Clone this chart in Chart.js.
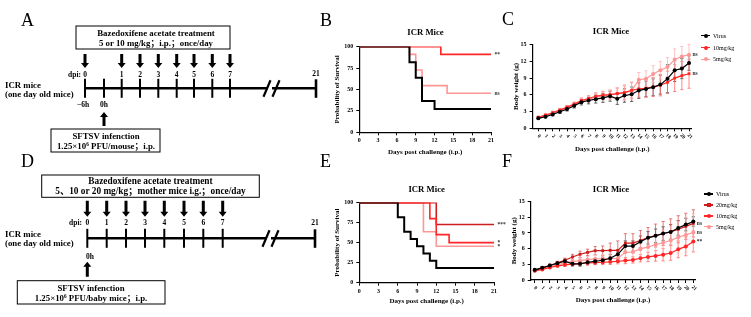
<!DOCTYPE html>
<html lang="en">
<head>
<meta charset="UTF-8">
<title>Bazedoxifene acetate in SFTSV infected ICR mice</title>
<script src="https://cdn.jsdelivr.net/npm/chart.js"></script>
<style>
  html, body { margin: 0; padding: 0; background: #fff; }
  body { position: relative; width: 751px; height: 317px; overflow: hidden;
         font-family: 'Liberation Serif', 'Noto Sans CJK SC', serif; color: #000; }
  canvas { position: absolute; }
  #schema { position: absolute; left: 0; top: 0; }
  #schemaText, #labels { position: absolute; left: 0; top: 0; width: 751px; height: 317px; will-change: transform; z-index: 2; }
  .st { position: absolute; font-weight: bold; line-height: 1; white-space: nowrap; color: #000; }
  .st sup { font-size: 0.6em; vertical-align: 0; position: relative; top: -0.45em; }
  .letter { position: absolute; font-size: 18px; line-height: 1; }
  .ptitle { position: absolute; font-size: 8.7px; font-weight: bold; line-height: 1;
            white-space: nowrap; transform: translate(-50%, -50%); }
  .leg { position: absolute; height: 8px; line-height: 8px; display: flex; align-items: center;
         font-size: 6px; white-space: nowrap; }
  .leg .mk { position: relative; width: 9px; height: 8px; margin-right: 3px; }
  .leg .mk i { position: absolute; left: 0; right: 0; top: 3.4px; height: 1.2px; }
  .leg .mk b { position: absolute; left: 2.5px; top: 2px; width: 4px; height: 4px; border-radius: 50%; }
</style>
</head>
<body>
<svg id="schema" width="330" height="317" xmlns="http://www.w3.org/2000/svg"></svg>

<canvas id="chartB" width="180" height="120" style="left:326px;top:40px"></canvas>
<canvas id="chartC" width="200" height="122" style="left:505px;top:38px"></canvas>
<canvas id="chartE" width="182" height="120" style="left:326px;top:196px"></canvas>
<canvas id="chartF" width="200" height="121" style="left:503px;top:195px"></canvas>

<div id="schemaText"></div>
<div id="labels">
  <div class="letter" style="left:21px;top:11px">A</div>
  <div class="letter" style="left:320px;top:11px">B</div>
  <div class="letter" style="left:502px;top:10px">C</div>
  <div class="letter" style="left:21px;top:152px">D</div>
  <div class="letter" style="left:320px;top:152px">E</div>
  <div class="letter" style="left:502px;top:152px">F</div>

  <div class="ptitle" style="left:425.5px;top:32.3px">ICR Mice</div>
  <div class="ptitle" style="left:611px;top:31px">ICR Mice</div>
  <div class="ptitle" style="left:426.7px;top:189.3px">ICR Mice</div>
  <div class="ptitle" style="left:611px;top:189.3px">ICR Mice</div>
</div>

<script>
  // ---------- data ----------
  // B: survival (%), step points
  const bVirusDays = [0, 8, 9, 10, 12, 21];
  const bVirusSurv = [100, 81.8, 63.6, 36.4, 27.3, 27.3];
  const b10Days = [0, 13, 21];
  const b10Surv = [100, 90.9, 90.9];
  const b5Days = [0, 8, 9, 10, 14, 21];
  const b5Surv = [100, 90.9, 72.7, 54.5, 45.5, 45.5];

  // E: survival (%), step points
  const eVirusDays = [0, 6, 7, 8, 9, 10, 11, 12, 21];
  const eVirusSurv = [100, 81.8, 63.6, 54.5, 45.5, 36.4, 27.3, 18.2, 18.2];
  const e20Days = [0, 12, 21];
  const e20Surv = [100, 72.7, 72.7];
  const e10Days = [0, 11, 12, 14, 21];
  const e10Surv = [100, 80, 60, 50, 50];
  const e5Days = [0, 10, 12, 21];
  const e5Surv = [100, 63.6, 45.5, 45.5];

  // C / F: body weight (g), mean and SD per day
  const weightDays = [0, 1, 2, 3, 4, 5, 6, 7, 8, 9, 10, 11, 12, 13, 14, 15, 16, 17, 18, 19, 20, 21];
  const dayLabels = ['0', '1', '2', '3', '4', '5', '6', '7', '8', '9', '10', '11', '12', '13', '14', '15', '16', '17', '18', '19', '20', '21'];

  const cVirus = [1.78, 2.07, 2.49, 2.96, 3.44, 4.03, 4.68, 4.98, 5.22, 5.45, 5.75, 5.28, 5.87, 6.10, 6.76, 7.06, 7.35, 7.83, 8.89, 10.4, 10.7, 11.7];
  const cVirusSD = [0.15, 0.2, 0.25, 0.3, 0.35, 0.4, 0.5, 0.6, 0.7, 0.8, 0.9, 1.0, 1.2, 1.3, 1.4, 1.4, 1.5, 1.7, 2.5, 2.0, 1.8, 1.3];
  const c10 = [1.96, 2.37, 2.79, 3.26, 3.79, 4.33, 4.98, 5.34, 5.75, 5.93, 6.05, 6.23, 6.40, 6.82, 7.06, 7.17, 7.41, 7.71, 8.24, 9.00, 9.43, 9.78];
  const c10SD = [0.15, 0.2, 0.25, 0.3, 0.3, 0.35, 0.45, 0.5, 0.6, 0.7, 0.8, 1.0, 1.2, 1.4, 1.5, 1.6, 1.7, 1.9, 2.0, 2.4, 2.5, 2.6];
  const c5 = [1.96, 2.30, 2.79, 3.26, 3.73, 4.33, 4.86, 5.22, 5.57, 5.81, 5.99, 6.23, 6.40, 6.70, 8.70, 8.90, 9.72, 10.4, 10.97, 12.33, 12.87, 13.2];
  const c5SD = [0.15, 0.2, 0.25, 0.3, 0.3, 0.35, 0.45, 0.55, 0.6, 0.7, 0.8, 1.0, 1.4, 1.6, 1.3, 1.4, 1.5, 1.6, 1.7, 1.9, 1.8, 1.8];

  const fVirus = [1.95, 2.33, 2.77, 3.21, 3.59, 3.09, 3.09, 3.40, 3.59, 3.78, 4.16, 4.92, 6.49, 6.49, 7.31, 8.07, 8.45, 8.89, 9.20, 9.96, 10.6, 11.2];
  const fVirusSD = [0.15, 0.2, 0.25, 0.3, 0.4, 0.4, 0.45, 0.5, 0.55, 0.6, 0.7, 0.8, 1.0, 1.0, 1.1, 1.2, 1.3, 1.3, 1.4, 1.4, 1.2, 0.9];
  const f20 = [1.89, 2.33, 2.77, 3.28, 3.78, 4.41, 4.92, 5.29, 5.61, 5.61, 5.67, 5.67, 7.06, 7.06, 7.56, 8.13, 8.50, 8.89, 9.20, 9.70, 10.27, 10.84];
  const f20SD = [0.15, 0.2, 0.25, 0.3, 0.4, 0.5, 0.6, 0.6, 0.8, 0.9, 1.4, 1.8, 1.8, 1.8, 1.9, 1.9, 2.2, 2.3, 2.5, 2.6, 2.5, 2.6];
  const f10 = [1.76, 2.02, 2.39, 2.71, 2.90, 3.02, 3.15, 3.28, 3.34, 3.40, 3.47, 3.59, 3.72, 3.84, 4.16, 4.41, 4.60, 4.85, 5.17, 5.86, 6.43, 7.37];
  const f10SD = [0.15, 0.15, 0.2, 0.25, 0.3, 0.3, 0.35, 0.4, 0.4, 0.45, 0.5, 0.5, 0.6, 0.6, 0.7, 0.9, 1.0, 1.2, 1.4, 1.6, 1.8, 2.0];
  const f5 = [1.83, 2.14, 2.52, 2.90, 3.28, 3.53, 3.72, 3.91, 4.03, 4.03, 4.10, 4.16, 5.29, 5.36, 5.99, 6.30, 6.74, 7.12, 7.56, 8.19, 8.63, 9.08];
  const f5SD = [0.15, 0.2, 0.25, 0.3, 0.35, 0.4, 0.5, 0.6, 0.7, 0.8, 0.9, 1.0, 1.3, 1.4, 1.6, 1.8, 2.0, 2.4, 2.7, 3.0, 3.3, 3.6];

  // schematic labels
  const dpiLabels = ['0', '1', '2', '3', '4', '5', '6', '7'];
  const aDoseX = [85, 121.7, 140, 158.3, 176.7, 194, 212.3, 230];
  const dDoseX = [87.3, 106.7, 126, 145, 164.3, 184, 203.3, 222.7];

  const BLACK = '#000000', DARKRED = '#cc1e1e', RED = '#ff2626', PINK = '#ff9696';
  const serif = "'Liberation Serif', 'Times New Roman', serif";

  // ---------- schematic (A, D) ----------
  let s = '', h = '';
  function rect(x, y, w, hh) {
    s += `<rect x="${x}" y="${y}" width="${w}" height="${hh}" fill="#fff" stroke="#000" stroke-width="1"/>`;
  }
  function line(x1, y1, x2, y2, w) {
    s += `<line x1="${x1}" y1="${y1}" x2="${x2}" y2="${y2}" stroke="#000" stroke-width="${w}"/>`;
  }
  function text(x, y, str, size, anchor) {
    const tx = anchor === 'start' ? '0' : anchor === 'end' ? '-100%' : '-50%';
    h += `<div class="st" style="left:${x}px;top:${y}px;font-size:${size}px;transform:translate(${tx},-50%)">${str}</div>`;
  }
  function downArrow(x, y1, y2) {
    s += `<path fill="#000" d="M${x - 1.5} ${y1}H${x + 1.5}V${y2 - 5}H${x + 4}L${x} ${y2}L${x - 4} ${y2 - 5}H${x - 1.5}Z"/>`;
  }
  function upArrow(x, y1, y2) {
    s += `<path fill="#000" d="M${x} ${y1}L${x + 4} ${y1 + 5}H${x + 1.5}V${y2}H${x - 1.5}V${y1 + 5}H${x - 4}Z"/>`;
  }
  function timeline(y, x0, x1, ticks, brk) {
    line(x0, y, x1, y, 2.6);
    ticks.forEach(x => line(x, y - 9.5, x, y + 9.5, 2));
    line(x1, y - 9, x1, y + 9.5, 2.6);
    s += `<rect x="${brk + 3.5}" y="${y - 3}" width="4.5" height="6" fill="#fff"/>`;
    line(brk - 0.5, y + 8.5, brk + 6.5, y - 8, 2.2);
    line(brk + 8.5, y + 8.5, brk + 15.5, y - 8, 2.2);
  }

  // panel A
  rect(76, 26, 154, 23);
  text(156, 33.3, 'Bazedoxifene acetate treatment', 8.8);
  text(156, 42.7, '5 or 10 mg/kg；i.p.；once/day', 8.8);
  aDoseX.forEach(x => downArrow(x, 54, 68));
  text(81, 75, 'dpi:', 7.5, 'end');
  aDoseX.forEach((x, i) => text(x, 75, dpiLabels[i], 7.5));
  timeline(88.3, 85, 316, [85, 104].concat(aDoseX.slice(1)), 264);
  text(316, 74, '21', 7.5);
  text(5, 84.7, 'ICR mice', 8.8, 'start');
  text(5, 94.3, '(one day old mice)', 8.8, 'start');
  text(83, 105, '−6h', 7.5);
  text(104, 105, '0h', 7.5);
  upArrow(104, 112, 126);
  rect(51, 129, 109, 23);
  text(106, 136, 'SFTSV infenction', 8.8);
  text(106, 145.7, '1.25×10<sup>6</sup> PFU/mouse；i.p.', 8.8);

  // panel D
  rect(41.7, 175, 217.6, 22.3);
  text(150.5, 181.7, 'Bazedoxifene acetate treatment', 9.3);
  text(150.5, 191.7, '5、10 or 20 mg/kg；mother mice i.g.；once/day', 9.3);
  dDoseX.forEach(x => downArrow(x, 200.7, 216.7));
  text(82, 223.3, 'dpi:', 7.5, 'end');
  dDoseX.forEach((x, i) => text(x, 223.3, dpiLabels[i], 7.5));
  timeline(238.3, 87.3, 315, dDoseX, 263);
  text(315, 223.3, '21', 7.5);
  text(5, 234, 'ICR mice', 8.8, 'start');
  text(5, 243.3, '(one day old mice)', 8.8, 'start');
  text(90, 256.7, '0h', 7.5);
  upArrow(87.3, 261.7, 276.7);
  rect(17.3, 280.7, 147.7, 23.3);
  text(91, 287.7, 'SFTSV infenction', 8.8);
  text(91, 297.7, '1.25×10<sup>6</sup> PFU/baby mice；i.p.', 8.8);

  document.getElementById('schema').innerHTML = s;
  document.getElementById('schemaText').innerHTML = h;

  // ---------- legends (C, F) ----------
  function legend(items, left, rows) {
    const host = document.getElementById('labels');
    items.forEach((it, i) => {
      const d = document.createElement('div');
      d.className = 'leg';
      d.style.left = left + 'px';
      d.style.top = (rows[i] - 4) + 'px';
      d.innerHTML = `<span class="mk"><i style="background:${it.color}"></i><b style="background:${it.color};border-radius:${it.square ? '0' : '50%'}"></b></span>${it.name}`;
      host.appendChild(d);
    });
  }
  legend([{ name: 'Virus', color: BLACK }, { name: '10mg/kg', color: RED }, { name: '5mg/kg', color: PINK }],
    701, [35.7, 47.5, 59.3]);
  legend([{ name: 'Virus', color: BLACK }, { name: '20mg/kg', color: DARKRED, square: true },
    { name: '10mg/kg', color: RED }, { name: '5mg/kg', color: PINK }],
    704, [194, 205, 216, 226.7]);

  // ---------- plugins ----------
  const errorBars = {
    id: 'errorBars',
    beforeDatasetsDraw(chart) {
      const ctx = chart.ctx, xs = chart.scales.x, ys = chart.scales.y;
      chart.data.datasets.forEach(ds => {
        if (!ds.sd) return;
        ctx.save();
        ctx.strokeStyle = ds.errColor;
        ctx.lineWidth = 0.8;
        ds.data.forEach((p, j) => {
          const px = xs.getPixelForValue(p.x);
          const top = ys.getPixelForValue(p.y + ds.sd[j]);
          const bot = ys.getPixelForValue(Math.max(0, p.y - ds.sd[j]));
          ctx.beginPath();
          ctx.moveTo(px, top); ctx.lineTo(px, bot);
          ctx.moveTo(px - 1.6, top); ctx.lineTo(px + 1.6, top);
          ctx.moveTo(px - 1.6, bot); ctx.lineTo(px + 1.6, bot);
          ctx.stroke();
        });
        ctx.restore();
      });
    }
  };

  const sigMarks = {
    id: 'sigMarks',
    afterDatasetsDraw(chart) {
      const ctx = chart.ctx, xs = chart.scales.x, ys = chart.scales.y;
      ctx.save();
      ctx.font = 'bold 5.5px ' + serif;
      ctx.fillStyle = '#333';
      ctx.textAlign = 'left';
      ctx.textBaseline = 'middle';
      chart.data.datasets.forEach(ds => {
        if (!ds.sig) return;
        const last = ds.data[ds.data.length - 1];
        ctx.fillText(ds.sig, xs.getPixelForValue(last.x) + 3.5, ys.getPixelForValue(last.y));
      });
      ctx.restore();
    }
  };

  const slantTicks = {
    id: 'slantTicks',
    afterDraw(chart, args, opts) {
      if (!opts.labels) return;
      const ctx = chart.ctx, xs = chart.scales.x;
      ctx.save();
      ctx.font = 'bold 5px ' + serif;
      ctx.fillStyle = '#000';
      ctx.textAlign = 'center';
      ctx.textBaseline = 'middle';
      xs.ticks.forEach(t => {
        const px = xs.getPixelForValue(t.value);
        ctx.save();
        ctx.translate(px + 0.8, xs.top + 8);
        ctx.rotate(Math.PI / 4);
        ctx.fillText(opts.labels[t.value], 0, 0);
        ctx.restore();
      });
      ctx.restore();
    }
  };

  function pts(xs, ys) { return xs.map((x, i) => ({ x: x, y: ys[i] })); }

  function makeOptions(o) {
    const tickFont = { family: serif, size: 6, weight: 'bold' };
    const titleFont = { family: serif, size: 7, weight: 'bold' };
    return {
      responsive: false,
      animation: false,
      devicePixelRatio: 1,
      layout: { padding: { left: 0, top: o.padTop, right: o.padRight, bottom: 0 } },
      plugins: {
        legend: { display: false },
        tooltip: { enabled: false },
        title: { display: false },
        slantTicks: { labels: o.slant ? dayLabels : null }
      },
      scales: {
        x: {
          type: 'linear', min: o.xMin, max: o.xMax,
          afterFit: sc => { sc.height = o.xHeight; },
          border: { display: true, color: '#000', width: 1.2 },
          grid: { drawOnChartArea: false, color: '#000', tickLength: 3, lineWidth: 1 },
          ticks: { display: !o.slant, stepSize: o.xStep, includeBounds: false, color: '#000',
                   padding: 2, maxRotation: 0, font: tickFont },
          title: { display: true, text: 'Days post challenge (i.p.)', color: '#000', font: titleFont,
                   padding: { top: 0, bottom: o.xTitlePad } }
        },
        y: {
          type: 'linear', min: 0, max: o.yMax,
          afterFit: sc => { sc.width = o.yWidth; },
          border: { display: true, color: '#000', width: 1.2 },
          grid: { drawOnChartArea: false, color: '#000', tickLength: 3, lineWidth: 1 },
          ticks: { stepSize: o.yStep, color: '#000', padding: 3, font: tickFont },
          title: { display: true, text: o.yTitle, color: '#000', font: titleFont,
                   padding: { top: o.yTitlePad, bottom: 0 } }
        }
      }
    };
  }

  // lower order is drawn later (on top)
  function survSet(days, surv, color, width, sig, order) {
    return { data: pts(days, surv), borderColor: color, borderWidth: width, stepped: true,
             pointRadius: 0, fill: false, sig: sig, order: order };
  }
  function weightSet(vals, sd, color, errColor, style, sig, order) {
    return { data: pts(weightDays, vals), borderColor: color, backgroundColor: color, borderWidth: 1.2,
             pointRadius: 2, pointStyle: style, pointBorderWidth: 0, tension: 0,
             sd: sd, errColor: errColor, sig: sig, clip: false, order: order };
  }

  // ---------- B ----------
  new Chart(document.getElementById('chartB'), {
    type: 'line',
    data: { datasets: [
      survSet(bVirusDays, bVirusSurv, BLACK, 2, '', 0),
      survSet(b10Days, b10Surv, RED, 1.6, '**', 1),
      survSet(b5Days, b5Surv, PINK, 1.6, 'ns', 2)
    ] },
    options: makeOptions({ padTop: 5, padRight: 15, xHeight: 27.7, yWidth: 33.3, xMin: 0, xMax: 21, xStep: 3,
      yMax: 100, yStep: 25, yTitle: 'Probability of Survival', yTitlePad: 7.1, xTitlePad: 4.1 }),
    plugins: [sigMarks]
  });

  // ---------- E ----------
  new Chart(document.getElementById('chartE'), {
    type: 'line',
    data: { datasets: [
      survSet(eVirusDays, eVirusSurv, BLACK, 2, '', 0),
      survSet(e20Days, e20Surv, DARKRED, 1.6, '***', 2),
      survSet(e10Days, e10Surv, RED, 1.6, '*', 1),
      survSet(e5Days, e5Surv, PINK, 1.6, '*', 3)
    ] },
    options: makeOptions({ padTop: 5, padRight: 14, xHeight: 33.3, yWidth: 33.3, xMin: 0, xMax: 21, xStep: 3,
      yMax: 100, yStep: 25, yTitle: 'Probability of Survival', yTitlePad: 6.8, xTitlePad: 10.4 }),
    plugins: [sigMarks]
  });

  // ---------- C ----------
  new Chart(document.getElementById('chartC'), {
    type: 'line',
    data: { datasets: [
      weightSet(cVirus, cVirusSD, BLACK, '#444', 'circle', '', 0),
      weightSet(c10, c10SD, RED, '#ff6a6a', 'rect', 'ns', 1),
      weightSet(c5, c5SD, PINK, '#ffb4b4', 'circle', 'ns', 2)
    ] },
    options: makeOptions({ slant: true, padTop: 6, padRight: 13.1, xHeight: 31.7, yWidth: 27.6, xMin: -0.8, xMax: 21.4,
      xStep: 1, yMax: 15, yStep: 3, yTitle: 'Body weight (g)', yTitlePad: 6.6, xTitlePad: 7.1 }),
    plugins: [errorBars, sigMarks, slantTicks]
  });

  // ---------- F ----------
  new Chart(document.getElementById('chartF'), {
    type: 'line',
    data: { datasets: [
      weightSet(fVirus, fVirusSD, BLACK, '#444', 'circle', '', 0),
      weightSet(f20, f20SD, DARKRED, '#dd5a5a', 'rect', 'ns', 1),
      weightSet(f10, f10SD, RED, '#ff6a6a', 'circle', '**', 2),
      weightSet(f5, f5SD, PINK, '#ffb4b4', 'circle', 'ns', 3)
    ] },
    options: makeOptions({ slant: true, padTop: 5.7, padRight: 7.7, xHeight: 36, yWidth: 27.7, xMin: -0.53, xMax: 21.26,
      xStep: 1, yMax: 15, yStep: 3, yTitle: 'Body weight (g)', yTitlePad: 7.1, xTitlePad: 12.1 }),
    plugins: [errorBars, sigMarks, slantTicks]
  });
</script>
</body>
</html>
